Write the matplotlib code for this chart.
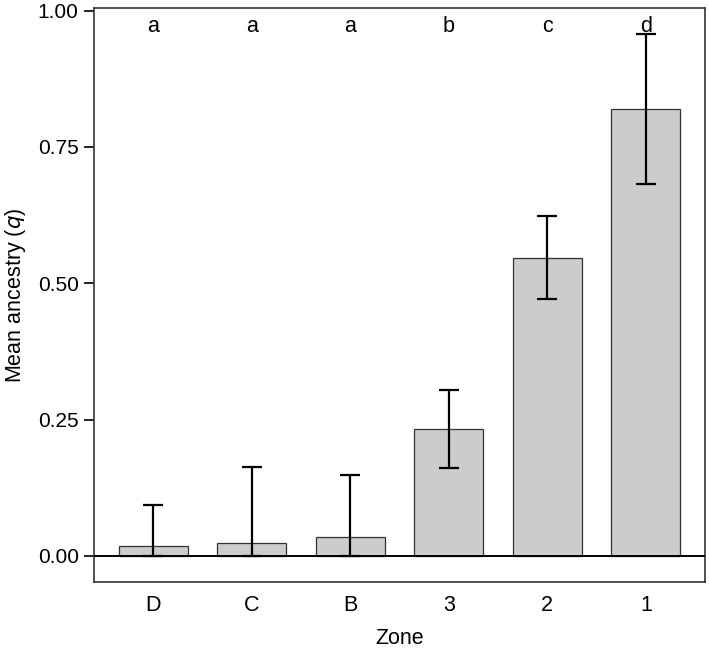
import numpy as np
import matplotlib.pyplot as plt

plt.rcParams['font.family'] = ['Liberation Sans', 'DejaVu Sans']

zones = ['D', 'C', 'B', '3', '2', '1']
mean_q = [0.018, 0.023, 0.034, 0.233, 0.547, 0.820]
upper = [0.094, 0.163, 0.148, 0.305, 0.623, 0.957]
lower = [0.0, 0.0, 0.0, 0.162, 0.472, 0.683]
groups = ['a', 'a', 'a', 'b', 'c', 'd']

x = np.arange(len(zones))
mean = np.array(mean_q)
yerr = [mean - np.array(lower), np.array(upper) - mean]

fig = plt.figure(figsize=(7.09, 6.49), dpi=100)
ax = fig.add_axes([0.1326, 0.1032, 0.8618, 0.8845])

ax.bar(x, mean, width=0.7, color='#cccccc', edgecolor='#333333', linewidth=0.9, zorder=2)
ax.errorbar(x, mean, yerr=yerr, fmt='none', ecolor='black', elinewidth=1.6,
            capsize=7, capthick=1.6, zorder=3)
ax.axhline(0, color='black', linewidth=1.4, zorder=4)

for xi, g in zip(x, groups):
    ax.text(xi, 0.971, g, ha='center', va='center', fontsize=15.5)

ax.set_xlim(-0.6, 5.6)
ax.set_ylim(-0.048, 1.005)
ax.set_xticks(x)
ax.set_xticklabels(zones)
ax.set_yticks([0, 0.25, 0.5, 0.75, 1.0])
ax.set_yticklabels(['0.00', '0.25', '0.50', '0.75', '1.00'])
ax.tick_params(axis='x', length=0, labelsize=15.5, pad=9)
ax.tick_params(axis='y', length=7, width=1.2, labelsize=15, pad=4)
for s in ax.spines.values():
    s.set_linewidth(1.2)
    s.set_color('#333333')

ax.set_xlabel('Zone', fontsize=15.5, labelpad=9)
ax.set_ylabel('Mean ancestry ($q$)', fontsize=15.5, labelpad=7)

fig.savefig('out.png', dpi=100)
